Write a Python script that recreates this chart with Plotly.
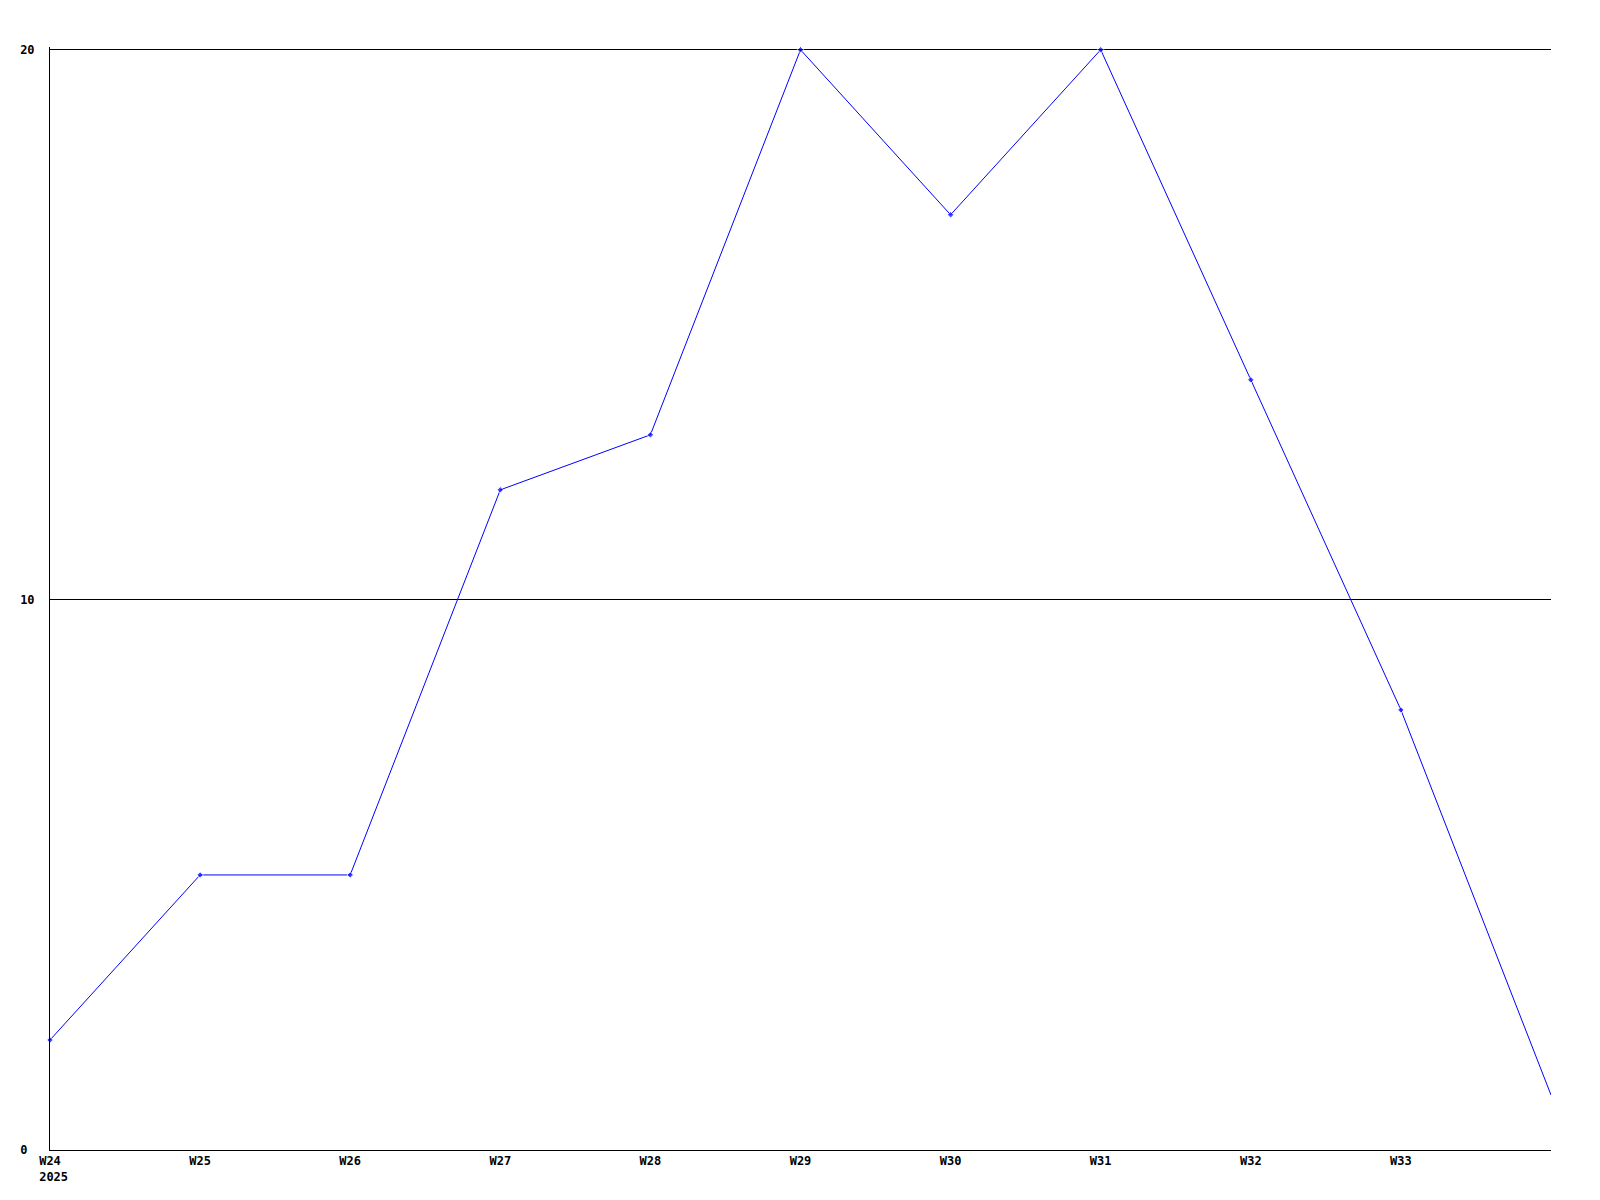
import plotly.graph_objects as go

weeks = ["W24", "W25", "W26", "W27", "W28", "W29", "W30", "W31", "W32", "W33", "W34"]
values = [2, 5, 5, 12, 13, 20, 17, 20, 14, 8, 1]
tick_labels = ["W24<br>\u00a02025", "W25", "W26", "W27", "W28", "W29", "W30", "W31", "W32", "W33"]
y_ticks = [0, 10, 20]
y_tick_text = ["0\u00a0", "10", "20"]

x_pos = list(range(len(weeks)))
marker_sizes = [5] * (len(weeks) - 1) + [0]

fig = go.Figure()
fig.add_trace(go.Scatter(
    x=x_pos, y=values, mode="lines+markers",
    line=dict(color="#0000ff", width=1),
    marker=dict(symbol="diamond", size=marker_sizes, color="#0000ff"),
    hoverinfo="x+y",
    cliponaxis=False,
))

font = dict(family="DejaVu Sans Mono, Liberation Mono, monospace", size=12, color="black", weight="bold")

fig.update_layout(
    width=1600, height=1200,
    margin=dict(l=42, r=57, t=39, b=58),
    paper_bgcolor="white", plot_bgcolor="white",
    showlegend=False,
    font=font,
)
fig.update_xaxes(
    range=[0, len(weeks) - 1],
    tickvals=x_pos[:-1], ticktext=tick_labels,
    showgrid=False, zeroline=False,
    showline=True, linecolor="black", linewidth=1,
    ticks="", tickfont=font, automargin=False,
)
fig.update_yaxes(
    range=[0, 20.05],
    tickvals=y_ticks, ticktext=y_tick_text,
    showgrid=True, gridcolor="black", gridwidth=1,
    zeroline=False,
    showline=True, linecolor="black", linewidth=1,
    ticks="", tickfont=font, ticklabelstandoff=12, automargin=False,
)

fig.write_html("out.html")
